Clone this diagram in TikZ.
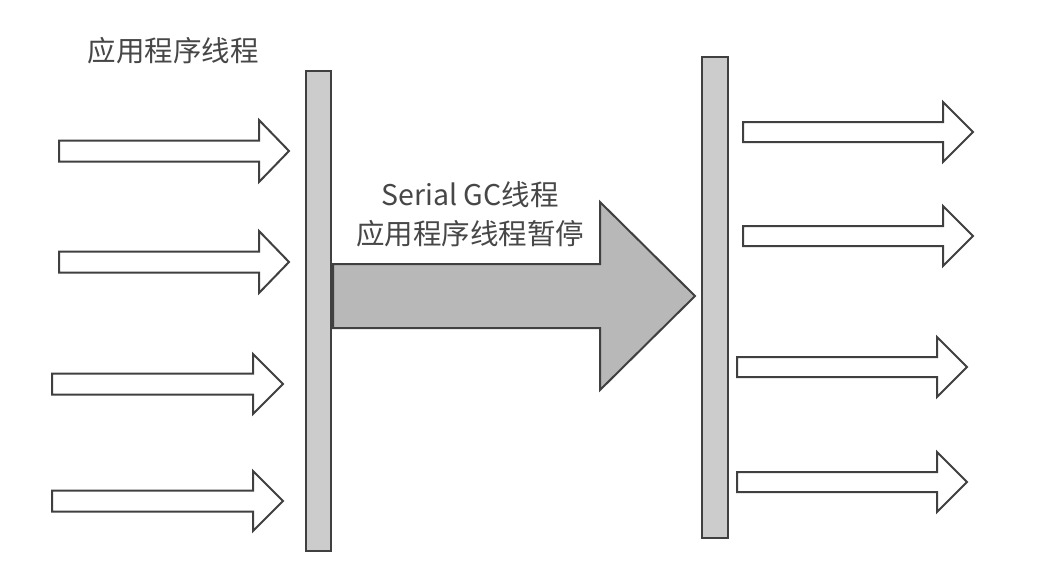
\documentclass[tikz,border=0pt]{standalone}
\usepackage{fontspec}
\setmainfont{Noto Sans CJK SC}
\begin{document}
\begin{tikzpicture}[x=1pt,y=-1pt,
  bar/.style={draw=black!75, fill=black!20, line width=2pt},
  thinarrow/.style={draw=black!75, fill=white, line width=2pt, line join=miter},
  bigarrow/.style={draw=black!75, fill=black!28, line width=2pt, line join=miter},
  lbl/.style={text=black!72, font=\fontsize{28.5}{39}\selectfont, inner sep=0pt, align=center}]
\useasboundingbox[fill=white] (0,0) rectangle (1056,570);
% #2 left x, #3 head base x, #4 tip x, #5 centre y, #6 half shaft, #7 half head
\newcommand\hollowarrow[7][thinarrow]{%
  \draw[#1] (#2,#5-#6) -- (#3,#5-#6) -- (#3,#5-#7) -- (#4,#5) -- (#3,#5+#7) -- (#3,#5+#6) -- (#2,#5+#6) -- cycle;}
% bars
\node[bar, minimum width=25pt, minimum height=480pt, inner sep=0pt, anchor=north west] (bar1) at (305,70) {};
\node[bar, minimum width=26pt, minimum height=481pt, inner sep=0pt, anchor=north west] (bar2) at (701,56) {};
% left arrows
\hollowarrow{59}{259}{289}{151}{10.5}{31}
\hollowarrow{59}{259}{289}{262}{10.5}{31}
\hollowarrow{52}{253}{283}{384}{10.5}{30}
\hollowarrow{52}{253}{283}{501}{10.5}{30}
% right arrows
\hollowarrow{743}{943}{973}{132}{10}{30}
\hollowarrow{743}{943}{973}{236}{10}{30}
\hollowarrow{737}{937}{967}{367}{10}{30}
\hollowarrow{737}{937}{967}{482}{10}{30}
% big arrow
\hollowarrow[bigarrow]{333}{600}{695}{296}{32}{94}
% labels
\node[lbl] (t1) at (173,51) {应用程序线程};
\node[lbl] (t2) at (470,214) {Serial GC线程\\应用程序线程暂停};
\end{tikzpicture}
\end{document}
